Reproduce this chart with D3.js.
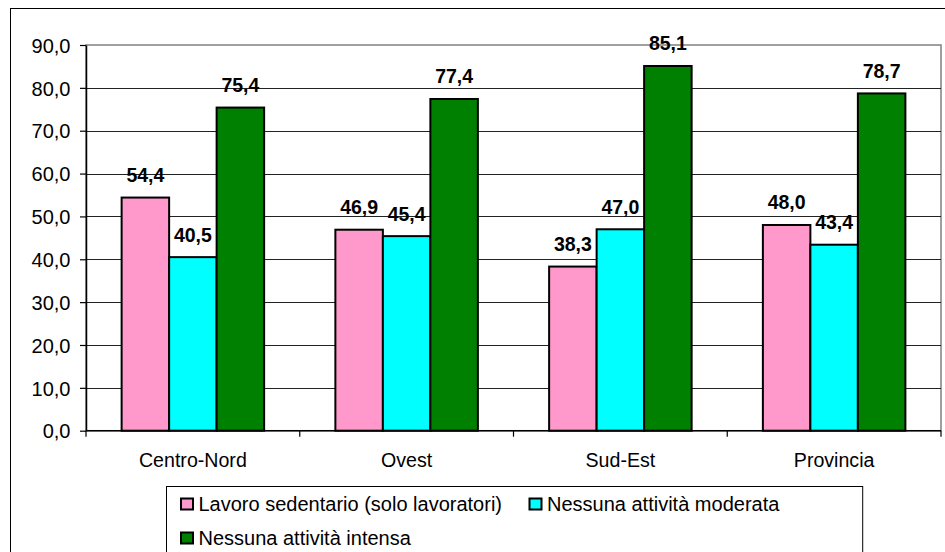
<!DOCTYPE html>
<html>
<head>
<meta charset="utf-8">
<script src="https://cdn.jsdelivr.net/npm/d3@7"></script>
<style>
  html, body { margin: 0; padding: 0; background: #fff; }
  svg { display: block; font-family: "Liberation Sans", Arial, sans-serif; }
</style>
</head>
<body>
<svg id="chart" width="945" height="552"></svg>
<script>
// Areas and indicator series
const categories = ["Centro-Nord", "Ovest", "Sud-Est", "Provincia"];
const seriesNames = [
  "Lavoro sedentario (solo lavoratori)",
  "Nessuna attività moderata",
  "Nessuna attività intensa"
];
const sedentario = [54.4, 46.9, 38.3, 48.0];
const moderata = [40.5, 45.4, 47.0, 43.4];
const intensa = [75.4, 77.4, 85.1, 78.7];
const yTicks = [0, 10, 20, 30, 40, 50, 60, 70, 80, 90];

const seriesValues = [sedentario, moderata, intensa];
const colors = ["#FF99CC", "#00FFFF", "#008000"];

const it = d3.formatLocale({ decimal: ",", thousands: ".", grouping: [3], currency: ["", " €"] });
const fmt = it.format(".1f");

const svg = d3.select("#chart");
const W = 945, H = 552;
const plot = { left: 86, right: 941, top: 45, bottom: 430.7 };

// outer chart frame
svg.append("rect")
  .attr("x", 10.5).attr("y", 8.5)
  .attr("width", W + 20).attr("height", H + 20)
  .attr("fill", "#fff").attr("stroke", "#000").attr("stroke-width", 1);

const x0 = d3.scaleBand().domain(categories).range([plot.left, plot.right]).padding(0);
const bw = x0.bandwidth();
const barW = bw / 4.5;
const x1 = d3.scaleBand().domain(d3.range(seriesNames.length))
  .range([barW * 0.75, bw - barW * 0.75]).padding(0);
const y = d3.scaleLinear().domain([0, 90]).range([plot.bottom, plot.top]);

// plot area border
svg.append("rect")
  .attr("x", plot.left).attr("y", plot.top)
  .attr("width", plot.right - plot.left).attr("height", plot.bottom - plot.top)
  .attr("fill", "#fff").attr("stroke", "#808080").attr("stroke-width", 1.5);

// horizontal gridlines
svg.append("g")
  .selectAll("line")
  .data(yTicks.filter(d => d > 0 && d < 90))
  .join("line")
  .attr("x1", plot.left).attr("x2", plot.right)
  .attr("y1", d => Math.round(y(d)) + 0.5).attr("y2", d => Math.round(y(d)) + 0.5)
  .attr("stroke", "#222").attr("stroke-width", 1.2);

// y axis
const yAxis = svg.append("g")
  .attr("transform", `translate(${plot.left},0)`)
  .call(d3.axisLeft(y).tickValues(yTicks).tickFormat(fmt).tickSize(6).tickSizeOuter(0));
yAxis.select(".domain").attr("stroke", "#000").attr("stroke-width", 1.5);
yAxis.selectAll(".tick line").attr("stroke", "#000").attr("stroke-width", 1.2);
yAxis.selectAll(".tick text")
  .attr("x", -15.5).attr("dy", "0.36em")
  .attr("font-size", "20px").attr("fill", "#000")
  .attr("font-family", "Liberation Sans, Arial, sans-serif");

// x axis baseline with ticks between categories
const xg = svg.append("g");
xg.append("line")
  .attr("x1", plot.left).attr("x2", plot.right)
  .attr("y1", plot.bottom).attr("y2", plot.bottom)
  .attr("stroke", "#000").attr("stroke-width", 1.5);
xg.selectAll("line.tk")
  .data(categories.concat([null]))
  .join("line").attr("class", "tk")
  .attr("x1", (d, i) => plot.left + i * bw).attr("x2", (d, i) => plot.left + i * bw)
  .attr("y1", plot.bottom).attr("y2", plot.bottom + 6)
  .attr("stroke", "#000").attr("stroke-width", 1.2);
xg.selectAll("text")
  .data(categories)
  .join("text")
  .attr("x", d => x0(d) + bw / 2)
  .attr("y", 467)
  .attr("text-anchor", "middle")
  .attr("font-size", "19.6px")
  .text(d => d);

// bars
const groups = svg.append("g").selectAll("g")
  .data(categories)
  .join("g")
  .attr("transform", d => `translate(${x0(d)},0)`);

groups.selectAll("rect")
  .data((c, ci) => seriesValues.map((vals, si) => ({ si, v: vals[ci] })))
  .join("rect")
  .attr("x", d => x1(d.si))
  .attr("y", d => y(d.v))
  .attr("width", x1.bandwidth())
  .attr("height", d => y(0) - y(d.v))
  .attr("fill", d => colors[d.si])
  .attr("stroke", "#000")
  .attr("stroke-width", 2);

// value labels
groups.selectAll("text")
  .data((c, ci) => seriesValues.map((vals, si) => ({ si, v: vals[ci] })))
  .join("text")
  .attr("x", d => x1(d.si) + x1.bandwidth() / 2)
  .attr("y", d => y(d.v) - 15.5)
  .attr("text-anchor", "middle")
  .attr("font-size", "19.5px")
  .attr("font-weight", "bold")
  .text(d => fmt(d.v));

// legend
const lg = svg.append("g");
lg.append("rect")
  .attr("x", 166.5).attr("y", 486.5)
  .attr("width", 862.7 - 166.5).attr("height", 100)
  .attr("fill", "#fff").attr("stroke", "#000").attr("stroke-width", 1);

const legendPos = [
  { x: 181, y: 510.5 },
  { x: 529.5, y: 510.5 },
  { x: 181, y: 544.5 }
];
const items = lg.selectAll("g.item")
  .data(seriesNames)
  .join("g").attr("class", "item")
  .attr("transform", (d, i) => `translate(${legendPos[i].x},${legendPos[i].y})`);
items.append("rect")
  .attr("x", 0).attr("y", -12)
  .attr("width", 12).attr("height", 11)
  .attr("fill", (d, i) => colors[i])
  .attr("stroke", "#000").attr("stroke-width", 2);
items.append("text")
  .attr("x", 17.5).attr("y", 0)
  .attr("font-size", "20px")
  .text(d => d);
</script>
</body>
</html>
